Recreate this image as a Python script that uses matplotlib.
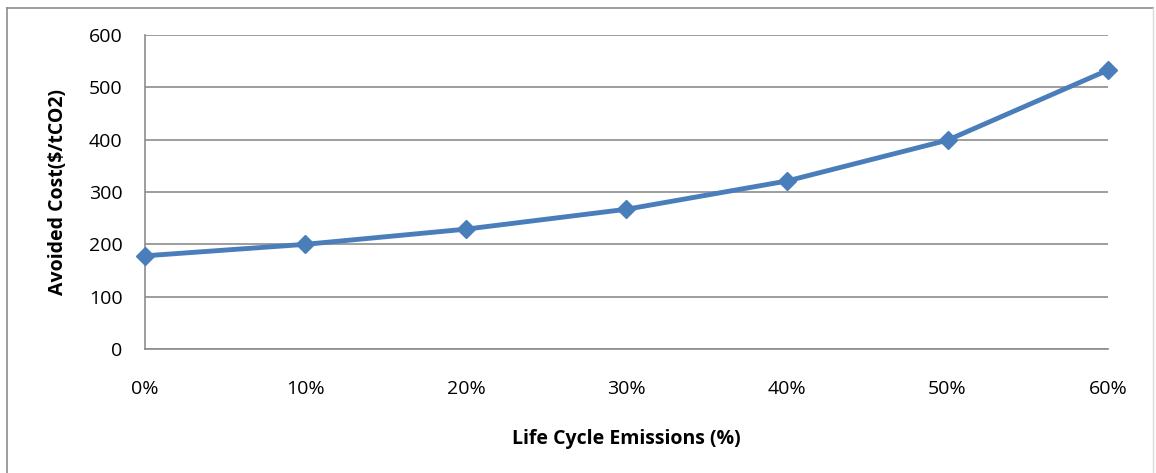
import matplotlib.pyplot as plt
from matplotlib.lines import Line2D

emissions = [0, 10, 20, 30, 40, 50, 60]
avoided_cost = [178, 200, 229, 267, 321, 399, 533]
x_labels = ["0%", "10%", "20%", "30%", "40%", "50%", "60%"]

plt.rcParams['font.family'] = ['Open Sans', 'DejaVu Sans']

fig = plt.figure(figsize=(11.56, 4.73), dpi=100)
ax = fig.add_axes([0.1254, 0.2622, 0.8331, 0.6638])

ax.plot(emissions, avoided_cost, color="#4A7EBB", linewidth=3.5,
        marker="D", markersize=9, clip_on=False, zorder=3)

ax.set_xlim(0, 60)
ax.set_ylim(0, 600)
ax.set_xticks(emissions)
ax.set_xticklabels(x_labels)
ax.set_yticks(range(0, 601, 100))
ax.tick_params(length=0, labelsize=14)
ax.tick_params(axis="x", pad=22)
ax.tick_params(axis="y", pad=16)
ax.yaxis.grid(True, color="#8C8C8C", linewidth=1.2)
ax.set_axisbelow(True)

for side in ["top", "right"]:
    ax.spines[side].set_visible(False)
for side in ["left", "bottom"]:
    ax.spines[side].set_color("#8C8C8C")
    ax.spines[side].set_linewidth(1.2)

ax.set_xlabel("Life Cycle Emissions (%)", fontsize=14, fontweight="bold", labelpad=23)
ax.set_ylabel("Avoided Cost($/tCO2)", fontsize=14, fontweight="bold", labelpad=15)

# outer chart border
fig.add_artist(Line2D([7 / 1156, 7 / 1156], [0, 1 - 8 / 473], color="#8C8C8C", linewidth=1.2))
fig.add_artist(Line2D([7 / 1156, 1153 / 1156], [1 - 8 / 473, 1 - 8 / 473], color="#8C8C8C", linewidth=1.2))
fig.add_artist(Line2D([1153 / 1156, 1153 / 1156], [0, 1 - 8 / 473], color="#D9D9D9", linewidth=1.0))

fig.savefig("out.png", dpi=100)
